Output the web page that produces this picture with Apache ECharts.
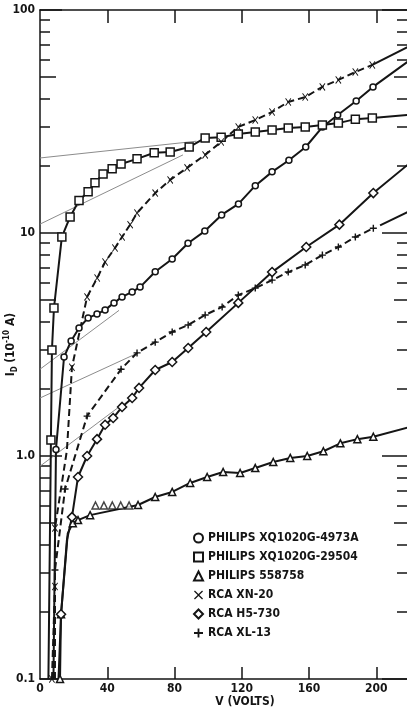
<!DOCTYPE html>
<html><head><meta charset="utf-8">
<script src="https://cdn.jsdelivr.net/npm/echarts@6/dist/echarts.min.js"></script>
<style>html,body{margin:0;padding:0;background:#fff}#c{width:407px;height:712px}</style>
</head><body><div id="c"></div>
<script>
// ---- data (V in volts, I_D in 1e-10 A) ----
const xTicks = [0, 40, 80, 120, 160, 200];
const yDecades = [0.1, 1, 10, 100];
const yDecadeLabels = ['0.1', '1.0', '10', '100'];
const yMinorTicks = [0.2,0.3,0.4,0.6,0.7,0.8,0.9, 2,3,4,6,7,8,9, 20,30,40,60,70,80,90];
const yHalfTicks = [0.5, 5, 50];

const names = ['PHILIPS XQ1020G-4973A','PHILIPS XQ1020G-29504','PHILIPS 558758','RCA XN-20','RCA H5-730','RCA XL-13'];

const circV = [8, 9.5, 14.3, 18.5, 23.2, 28.6, 33.9, 38.7, 44, 48.8, 54.8, 59.5, 68.5, 78.6, 88, 98, 108, 118, 128, 138, 148, 158, 168, 177, 188, 198, 218.5];
const circI = [0.1, 1.07, 2.78, 3.28, 3.75, 4.16, 4.33, 4.52, 4.86, 5.17, 5.44, 5.72, 6.7, 7.65, 9.0, 10.2, 12.05, 13.5, 16.3, 18.8, 21.2, 24.3, 29.9, 33.8, 39.1, 45.2, 58.5];

const sqV = [5, 6.5, 7.1, 8.3, 13, 17.9, 23.2, 28.6, 32.7, 37.5, 42.9, 48.2, 57.7, 67.9, 77.4, 88.7, 98.2, 107.7, 117.9, 128, 138, 147.6, 157.7, 167.9, 177.4, 187.5, 197.6, 218.5];
const sqI = [0.1, 1.18, 2.99, 4.61, 9.6, 11.8, 14.0, 15.3, 16.8, 18.4, 19.4, 20.4, 21.5, 22.9, 23.1, 24.3, 26.7, 26.9, 27.8, 28.4, 29.0, 29.6, 29.9, 30.5, 31.1, 32.4, 32.8, 33.8];

const triV = [11.9, 12.5, 16.5, 19.5, 22.6, 29.8, 58.3, 68.5, 78.6, 89.3, 99.4, 108.9, 119, 128, 138.7, 148.8, 158.9, 168.5, 178.6, 188.7, 198.2, 218.5];
const triI = [0.1, 0.195, 0.45, 0.50, 0.516, 0.543, 0.603, 0.655, 0.69, 0.757, 0.805, 0.848, 0.839, 0.883, 0.94, 0.98, 1.0, 1.05, 1.14, 1.19, 1.22, 1.34];
const triExtraV = [33, 38, 43, 48, 53];
const triExtraI = [0.6, 0.6, 0.6, 0.6, 0.6];

const xnV = [7.1, 8.9, 8.9, 16, 19, 28, 34, 38.7, 44.6, 48.8, 53.6, 57.7, 68.5, 77.4, 87.5, 98.2, 107.7, 117.9, 128, 138, 147.6, 157.7, 167.9, 177.4, 187.5, 197.6, 218.5];
const xnI = [0.1, 0.26, 0.475, 1.06, 2.5, 5.17, 6.28, 7.41, 8.57, 9.6, 10.9, 12.3, 15.1, 17.3, 19.6, 22.4, 25.6, 29.9, 32.1, 34.9, 38.7, 40.7, 45.2, 48.6, 52.7, 56.7, 68.2];

const h5V = [11, 12.5, 16, 19, 22.6, 28, 33.9, 38.7, 43.5, 48.8, 54.8, 58.9, 68.5, 78.6, 88.1, 98.8, 117.9, 138, 158.3, 178, 198.2, 218.5];
const h5I = [0.1, 0.195, 0.42, 0.532, 0.805, 1.0, 1.19, 1.38, 1.48, 1.66, 1.82, 2.02, 2.43, 2.64, 3.05, 3.60, 4.86, 6.68, 8.65, 10.9, 15.1, 20.2];

const xlV = [8.9, 8.9, 14.9, 28, 48.2, 57.7, 68.5, 78.6, 88.1, 98.2, 108.3, 117.9, 128, 138, 147.6, 157.7, 167.9, 177.4, 187.5, 198.2, 218.5];
const xlI = [0.1, 0.308, 0.711, 1.51, 2.45, 2.90, 3.24, 3.60, 3.87, 4.29, 4.66, 5.27, 5.66, 6.15, 6.68, 7.19, 7.96, 8.65, 9.59, 10.5, 12.4];

// thin extrapolation lines
const tanV = [[0, 93], [0, 85], [0, 47], [0, 58.3], [0, 47]];
const tanI = [[21.7, 25.8], [10.96, 22.4], [2.45, 4.5], [1.82, 2.9], [0.9, 1.66]];

// ---- styling ----
const FONT = 'DejaVu Sans Condensed';
const INK = '#151515';
const X_PATH = 'path://M1,0 L5,4 L9,0 L10,1 L6,5 L10,9 L9,10 L5,6 L1,10 L0,9 L4,5 L0,1 Z';
const P_PATH = 'path://M4,0 H6 V4 H10 V6 H6 V10 H4 V6 H0 V4 H4 Z';

function pts(V, I, plain) {
  return V.map((v, i) => plain.indexOf(i) >= 0 ? {value: [v, I[i]], symbol: 'none'} : [v, I[i]]);
}
function hollow() { return {color: '#fff', borderColor: INK, borderWidth: 1.5}; }
function solid() { return {color: INK, borderWidth: 0}; }
function lineSeries(name, data, symbol, size, item, lineType) {
  return {
    type: 'line', name, data, symbol, symbolSize: size, showSymbol: true,
    lineStyle: {color: INK, width: 2, type: lineType || 'solid'},
    itemStyle: item, emphasis: {disabled: true}, silent: true, z: 3, animation: false
  };
}

const series = [];
tanV.forEach((V, k) => series.push({
  type: 'line', name: 'tan' + k, data: V.map((v, i) => [v, tanI[k][i]]), symbol: 'none',
  lineStyle: {color: '#8c8c8c', width: 1}, silent: true, z: 1, animation: false
}));
series.push(lineSeries(names[0], pts(circV, circI, [0, circV.length - 1]), 'circle', 6, hollow()));
series.push(lineSeries(names[1], pts(sqV, sqI, [0, sqV.length - 1]), 'rect', 8, hollow()));
series.push(lineSeries(names[2], pts(triV, triI, [2, triV.length - 1]), 'triangle', 7, hollow()));
series.push({type: 'scatter', name: names[2], data: triExtraV.map((v, i) => [v, triExtraI[i]]), symbol: 'triangle', symbolSize: 7, itemStyle: hollow(), silent: true, z: 4, animation: false});
const xnN = xnV.length;
series.push(lineSeries(names[3], pts(xnV.slice(0, xnN - 1), xnI.slice(0, xnN - 1), [3]), X_PATH, [6, 8], solid(), [7, 4]));
series.push({type: 'line', name: 'xnTail', data: xnV.slice(xnN - 2).map((v, i) => [v, xnI[xnN - 2 + i]]), symbol: 'none', lineStyle: {color: INK, width: 2}, silent: true, animation: false});
series.push(lineSeries(names[4], pts(h5V, h5I, [0, 2, h5V.length - 1]), 'diamond', 9, hollow()));
const xlN = xlV.length;
series.push(lineSeries(names[5], pts(xlV.slice(0, xlN - 1), xlI.slice(0, xlN - 1), [0]), P_PATH, 7, solid(), [7, 4]));
series.push({type: 'line', name: 'xlTail', data: [[xlV[xlN - 2] + 4, xlI[xlN - 2] * 1.03], [xlV[xlN - 1], xlI[xlN - 1]]], symbol: 'none', lineStyle: {color: INK, width: 2}, silent: true, animation: false});

const labelStyle = {color: INK, fontFamily: FONT, fontWeight: 'bold', fontSize: 12};
function yAx(pos, ticks, len, main) {
  return {
    type: 'log', logBase: 10, min: 0.1, max: 100, position: pos, gridIndex: 0,
    axisLine: {show: !!main, lineStyle: {color: INK, width: 1.5}},
    axisTick: {show: true, inside: true, length: len, customValues: ticks, lineStyle: {color: INK, width: 1.5}},
    axisLabel: main && pos === 'left' ? Object.assign({show: true, margin: 5, customValues: yDecades,
      formatter: v => { const k = yDecades.findIndex(d => Math.abs(d - v) / d < 1e-6); return k >= 0 ? yDecadeLabels[k] : ''; }}, labelStyle) : {show: false},
    splitLine: {show: false}, minorTick: {show: false},
    name: main && pos === 'left' ? '{m|I}{s|D} {m|(10}{p|-10}{m| A)}' : '',
    nameLocation: 'middle', nameRotate: 90, nameGap: 21, nameMoveOverlap: false,
    nameTextStyle: {rich: {
      m: {fontFamily: FONT, fontWeight: 'bold', fontSize: 12, color: INK, lineHeight: 16},
      s: {fontFamily: FONT, fontWeight: 'bold', fontSize: 8, color: INK, lineHeight: 8, verticalAlign: 'bottom'},
      p: {fontFamily: FONT, fontWeight: 'bold', fontSize: 8, color: INK, lineHeight: 8, verticalAlign: 'top'}
    }}
  };
}

const option = {
  backgroundColor: '#fff',
  animation: false,
  grid: {left: 40, right: -3, top: 10, bottom: 33, containLabel: false, outerBoundsMode: 'none'},
  xAxis: [
    {type: 'value', min: 0, max: 220, interval: 40, position: 'bottom',
     axisLine: {lineStyle: {color: INK, width: 1.5}},
     axisTick: {inside: true, length: 12, customValues: xTicks.slice(1), lineStyle: {color: INK, width: 1.5}},
     axisLabel: Object.assign({margin: 4, customValues: xTicks}, labelStyle),
     splitLine: {show: false},
     name: 'V (VOLTS)', nameLocation: 'middle', nameGap: 17, nameMoveOverlap: false,
     nameTextStyle: {color: INK, fontFamily: FONT, fontWeight: 'bold', fontSize: 12, padding: [0, 0, 0, 40]}},
    {type: 'value', min: 0, max: 220, interval: 40, position: 'top',
     axisLine: {lineStyle: {color: INK, width: 1.5}},
     axisTick: {inside: true, length: 13, customValues: xTicks.slice(1), lineStyle: {color: INK, width: 1.5}},
     axisLabel: {show: false}, splitLine: {show: false}}
  ],
  yAxis: [
    yAx('left', yDecades, 22, true),
    yAx('left', yMinorTicks, 10, false),
    yAx('left', yHalfTicks, 16, false),
    yAx('right', yDecades, 28, true),
    yAx('right', yMinorTicks, 13, false),
    yAx('right', yHalfTicks, 16, false)
  ],
  legend: {
    orient: 'vertical', left: 188, top: 526, itemWidth: 9, itemHeight: 9, itemGap: 5,
    selectedMode: false,
    textStyle: {color: INK, fontFamily: FONT, fontWeight: 'bold', fontSize: 12, lineHeight: 14},
    data: [
      {name: names[0], icon: 'circle'},
      {name: names[1], icon: 'rect'},
      {name: names[2], icon: 'triangle'},
      {name: names[3], icon: X_PATH},
      {name: names[4], icon: 'diamond'},
      {name: names[5], icon: P_PATH}
    ]
  },
  series
};
const chart = echarts.init(document.getElementById('c'), null, {renderer: 'canvas'});
chart.setOption(option);
</script>
</body></html>
